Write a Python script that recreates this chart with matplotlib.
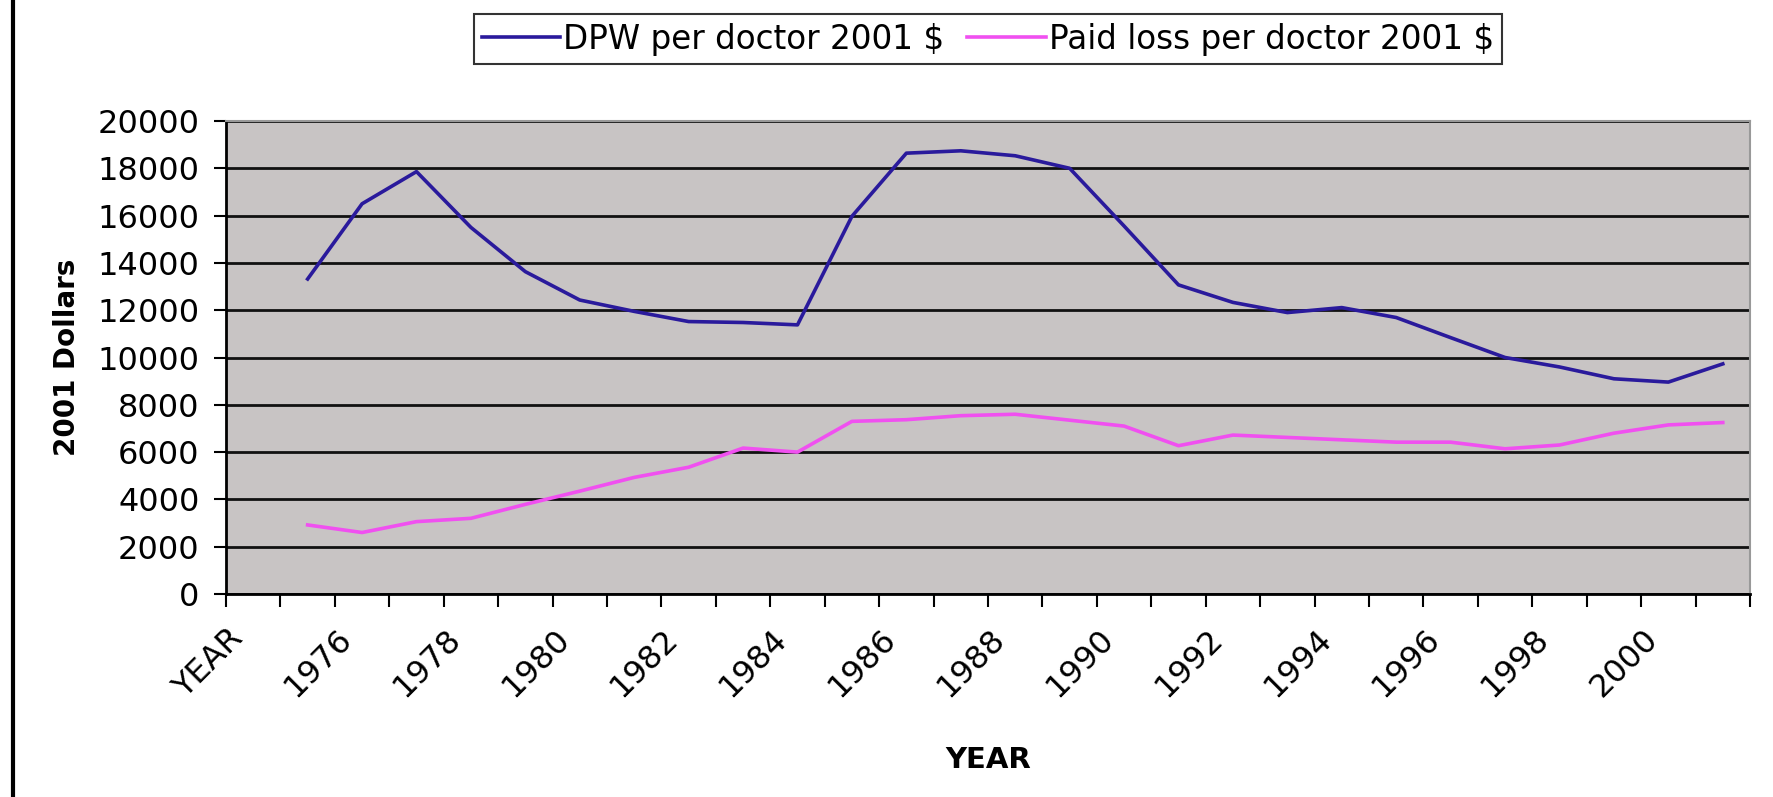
import matplotlib.pyplot as plt
from matplotlib.lines import Line2D
from matplotlib.transforms import ScaledTranslation
import numpy as np

# categories on the x axis (first one is the empty "YEAR" slot)
categories = ['YEAR'] + [str(y) for y in range(1975, 2002)]
years = list(range(1975, 2002))

dpw = [13320, 16500, 17860, 15500, 13630, 12430, 11950, 11520, 11480, 11380,
       15970, 18640, 18740, 18530, 18000, 15560, 13070, 12330, 11900, 12110,
       11690, 10840, 10000, 9600, 9100, 8960, 9730]
paid_loss = [2920, 2600, 3060, 3200, 3790, 4350, 4930, 5360, 6170, 6000,
             7300, 7370, 7540, 7600, 7350, 7100, 6270, 6720, 6620, 6520,
             6420, 6420, 6140, 6300, 6800, 7150, 7250]

fig = plt.figure(figsize=(17.73, 7.97), dpi=100)
ax = fig.add_axes([226/1773, 1 - 594/797, (1750 - 226)/1773, (594 - 121)/797])
ax.set_facecolor('#c8c4c4')

x = np.arange(1, len(categories))
ax.plot(x, dpw, color='#2a1a9c', lw=2.6, label='DPW per doctor 2001 $')
ax.plot(x, paid_loss, color='#f050f0', lw=2.6, label='Paid loss per doctor 2001 $')

ax.set_xlim(-0.5, len(categories) - 0.5)
ax.set_ylim(0, 20000)
ax.set_yticks(range(0, 20001, 2000))
ax.yaxis.grid(True, color='#111111', lw=2.0)
ax.set_axisbelow(True)

# category labels every other year, ticks between categories
ax.set_xticks(np.arange(0, len(categories), 2))
ax.set_xticklabels(categories[::2], rotation=45, ha='right', va='top',
                   rotation_mode='anchor', fontsize=23)
ax.set_xticks(np.arange(-0.5, len(categories), 1), minor=True)
ax.tick_params(axis='x', which='major', length=0, pad=21)
ax.tick_params(axis='x', which='minor', length=9, width=1.5, color='black')
off = ScaledTranslation(-26/100, 0, fig.dpi_scale_trans)
for lab in ax.get_xticklabels():
    lab.set_transform(lab.get_transform() + off)

ax.tick_params(axis='y', length=9, width=1.5, pad=10, labelsize=23)

for s in ['left', 'bottom']:
    ax.spines[s].set_color('black')
    ax.spines[s].set_linewidth(2)
for s in ['top', 'right']:
    ax.spines[s].set_color('#999999')
    ax.spines[s].set_linewidth(1.5)

ax.set_ylabel('2001 Dollars', fontsize=20, fontweight='bold', labelpad=12)
ax.set_xlabel('YEAR', fontsize=21, fontweight='bold')
ax.xaxis.set_label_coords(0.5, -(746 - 594)/473)

leg = fig.legend(loc='center', bbox_to_anchor=(988/1773, 1 - 39/797), ncol=2,
                 fontsize=23.5, frameon=True, fancybox=False, edgecolor='black',
                 handlelength=2.4, handletextpad=0.1, columnspacing=0.7,
                 borderpad=0.25)
leg.get_frame().set_linewidth(1.5)

# left border of the original chart frame
fig.add_artist(Line2D([13/1773, 13/1773], [0, 1], color='black', lw=3))

fig.savefig('out.png', dpi=100)
